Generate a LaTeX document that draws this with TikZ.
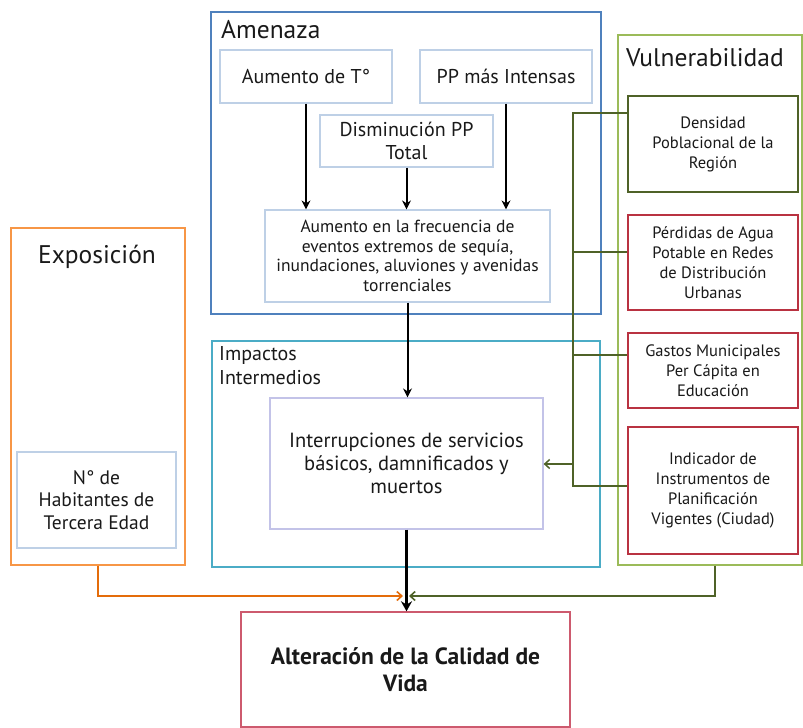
\documentclass[tikz,border=0pt]{standalone}
\usepackage{fontspec}
\setmainfont{PT Sans}
\usetikzlibrary{arrows.meta}
\definecolor{amenblue}{RGB}{79,129,189}
\definecolor{impteal}{RGB}{75,172,198}
\definecolor{expoor}{RGB}{247,150,70}
\definecolor{vulgreen}{RGB}{155,187,89}
\definecolor{dkgreen}{RGB}{79,98,40}
\definecolor{redbox}{RGB}{185,50,65}
\definecolor{innerb}{RGB}{190,208,230}
\definecolor{innerl}{RGB}{195,195,232}
\definecolor{altred}{RGB}{205,90,110}
\definecolor{orline}{RGB}{228,108,10}
\definecolor{txt}{RGB}{25,25,25}
\begin{document}
\begin{tikzpicture}[x=1pt,y=-1pt,
  every node/.style={text=txt},
  group/.style={draw, line width=1.4pt, rectangle, inner sep=0pt},
  inbox/.style={draw=innerb, line width=1.2pt, fill=white, rectangle, inner sep=0pt, align=center},
  vbox/.style={draw=#1, line width=1.4pt, fill=white, rectangle, inner sep=0pt, align=center,
     minimum width=170pt, font=\fontsize{16.5}{20}\selectfont},
  title/.style={font=\fontsize{25.5}{28}\selectfont, inner sep=0pt},
  barrow/.style={line width=2pt, -{Stealth[length=9pt,width=9pt]}},
  gline/.style={draw=dkgreen, line width=1.5pt},
]
\useasboundingbox (0,0) rectangle (803,728);

% group boxes
\node[group, draw=amenblue, minimum width=390pt, minimum height=302pt] (amen) at (406,163) {};
\node[group, draw=impteal, minimum width=388pt, minimum height=226pt] (imp) at (406,454) {};
\node[group, draw=expoor, minimum width=174pt, minimum height=337pt] (expo) at (98,396.5) {};
\node[group, draw=vulgreen, minimum width=184pt, minimum height=530pt] (vul) at (710,300) {};

% titles
\node[title, anchor=west] (amenT) at (221,30) {Amenaza};
\node[anchor=north west, align=left, inner sep=0pt, font=\fontsize{20}{24}\selectfont] (impT) at (219,346) {Impactos\\Intermedios};
\node[title] (expoT) at (97,257) {Exposición};
\node[title] (vulT) at (705,58) {Vulnerabilidad};

% Amenaza inner boxes
\node[inbox, minimum width=172pt, minimum height=53pt, font=\fontsize{20}{23}\selectfont] (t1) at (306,76.5) {Aumento de T\textdegree};
\node[inbox, minimum width=172pt, minimum height=53pt, font=\fontsize{20}{23}\selectfont] (t2) at (506,76.5) {PP más Intensas};
\node[inbox, minimum width=173pt, minimum height=52pt, font=\fontsize{20}{23}\selectfont] (t3) at (406.5,141) {Disminución PP\\Total};
\node[inbox, minimum width=285pt, minimum height=92pt, font=\fontsize{17.5}{19.5}\selectfont] (t4) at (407.5,256) {Aumento en la frecuencia de\\eventos extremos de sequía,\\inundaciones, aluviones y avenidas\\torrenciales};

% Impactos inner box
\node[inbox, draw=innerl, minimum width=273pt, minimum height=131pt, font=\fontsize{20.5}{23}\selectfont] (t5) at (406.5,463.5) {Interrupciones de servicios\\básicos, damnificados y\\muertos};

% Exposición inner box
\node[inbox, minimum width=159pt, minimum height=96pt, font=\fontsize{19.5}{22.5}\selectfont] (hab) at (96.5,500) {N\textdegree{} de\\Habitantes de\\Tercera Edad};

% Vulnerabilidad boxes
\node[vbox=dkgreen, minimum height=96pt] (v1) at (713,144) {Densidad\\Poblacional de la\\Región};
\node[vbox=redbox, minimum height=95pt] (v2) at (713,262.5) {Pérdidas de Agua\\Potable en Redes\\de Distribución\\Urbanas};
\node[vbox=redbox, minimum height=75pt] (v3) at (713,370.5) {Gastos Municipales\\Per Cápita en\\Educación};
\node[vbox=redbox, minimum height=127pt] (v4) at (713,490.5) {Indicador de\\Instrumentos de\\Planificación\\Vigentes (Ciudad)};

% Result box
\node[draw=altred, line width=1.4pt, fill=white, rectangle, inner sep=0pt, align=center,
      minimum width=329pt, minimum height=115pt, font=\bfseries\fontsize{23.5}{27}\selectfont] (alt) at (405.5,669.5) {Alteración de la Calidad de\\Vida};

% black arrows
\draw[barrow] (t1.south) -- (t1.south |- t4.north);
\draw[barrow] (t3.south) -- (t3.south |- t4.north);
\draw[barrow] (t2.south) -- (t2.south |- t4.north);
\draw[barrow] (t4.south) -- (t4.south |- t5.north);

% green vulnerability connectors
\coordinate (g1) at (573,113);
\coordinate (g2) at (573,252);
\coordinate (g3) at (573,355);
\coordinate (g4) at (573,486);
\coordinate (gm) at (573,464);
\draw[gline] (v1.west |- g1) -- (g1) -- (g4) -- (v4.west |- g4);
\draw[gline] (v2.west |- g2) -- (g2);
\draw[gline] (v3.west |- g3) -- (g3);
\draw[gline, -{Straight Barb[length=5pt,width=9pt]}] (gm) -- (t5.east |- gm);

% bottom connectors
\coordinate (ob) at (98,596);
\coordinate (mo) at (403,596);
\coordinate (gb) at (715,596);
\coordinate (mg) at (409,596);
\draw[draw=orline, line width=1.6pt, -{Straight Barb[length=5pt,width=9pt]}] (expo.south -| ob) -- (ob) -- (mo);
\draw[draw=dkgreen, line width=1.6pt, -{Straight Barb[length=5pt,width=9pt]}] (vul.south -| gb) -- (gb) -- (mg);
\draw[line width=3pt, -{Stealth[length=10pt,width=11pt]}] (t5.south) -- (t5.south |- alt.north);
\end{tikzpicture}
\end{document}
